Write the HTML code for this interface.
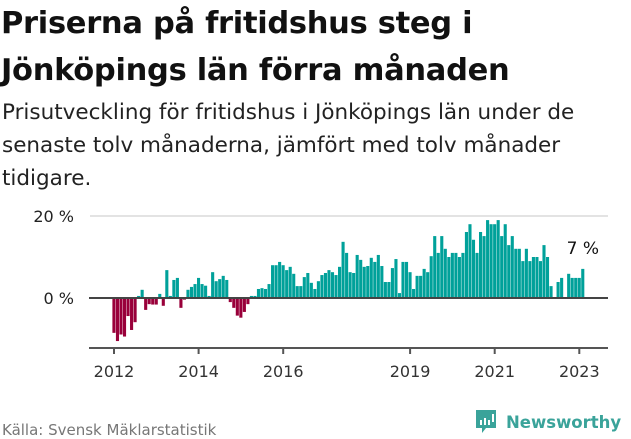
<!DOCTYPE html>
<html><head><meta charset="utf-8"><style>
body{margin:0;width:631px;height:439px;background:#fff;font-family:"DejaVu Sans",sans-serif;overflow:hidden;position:relative;color:#111}
h1{position:absolute;left:1px;top:0;margin:0;font-size:30.5px;line-height:47px;font-weight:bold;letter-spacing:-0.3px;font-family:"DejaVu Sans",sans-serif}
.sub{position:absolute;left:2px;top:96px;margin:0;font-size:21.5px;line-height:33px;color:#222}
.src{position:absolute;left:2px;top:421px;font-size:15px;color:#777}
.logo{position:absolute;left:474px;top:408px;display:flex;align-items:center;color:#3aa39a;font-weight:bold;font-size:16.5px}
</style></head><body>
<h1>Priserna på fritidshus steg i<br>Jönköpings län förra månaden</h1>
<p class="sub">Prisutveckling för fritidshus i Jönköpings län under de<br>senaste tolv månaderna, jämfört med tolv månader<br>tidigare.</p>
<svg id="chart" width="631" height="439" style="position:absolute;left:0;top:0"></svg>
<div class="src">Källa: Svensk Mäklarstatistik</div>
<div class="logo">
<svg width="24" height="28" viewBox="0 0 24 28" style="margin-right:8px"><path d="M2 2h20v18H12l-4 5v-5H2z" fill="#3aa39a"/><rect x="6" y="12" width="2" height="5" fill="#fff"/><rect x="10" y="10" width="2" height="7" fill="#fff"/><rect x="14" y="12" width="2" height="5" fill="#fff"/><rect x="18" y="6" width="2" height="8" fill="#fff"/></svg>Newsworthy</div>
<script>
const values=[-8.5,-10.5,-8.9,-9.4,-4.4,-7.8,-5.9,0.5,2.0,-2.9,-1.5,-1.6,-1.6,1.0,-1.9,6.8,0.5,4.4,4.9,-2.4,-0.4,2.0,2.7,3.4,4.9,3.4,3.0,0.5,6.3,4.1,4.6,5.4,4.4,-1.0,-2.4,-4.3,-4.8,-3.4,-1.5,0.5,0.5,2.2,2.4,2.2,3.4,8.0,8.0,8.8,8.0,6.8,7.6,5.9,2.9,2.9,5.1,6.1,3.7,2.2,4.1,5.6,6.1,6.8,6.3,5.6,7.6,13.7,11.0,6.3,6.1,10.5,9.3,7.6,7.8,9.8,8.8,10.5,7.8,3.9,3.9,7.3,9.5,1.2,8.8,8.8,6.3,2.2,5.4,5.4,7.1,6.3,10.2,15.1,11.0,15.1,12.0,10.0,11.0,11.0,10.0,11.0,16.1,18.0,14.2,11.0,16.1,15.1,19.0,18.0,18.0,19.0,15.1,18.0,12.9,15.1,12.0,12.0,9.0,12.0,9.0,10.0,10.0,9.0,12.9,10.0,2.9,0,3.9,4.9,0,5.9,4.9,4.9,4.9,7.1];
const yTicks=[0,20];
const xYears=[2012,2014,2016,2019,2021,2023];
const startYear=2012;
const lastLabel="7 %";
const svg=document.getElementById('chart');
const NS='http://www.w3.org/2000/svg';
const x=m=>114+3.525*m;
const y=v=>298-4.1*v;
const FF='DejaVu Sans, sans-serif';
function mk(t,a){const e=document.createElementNS(NS,t);for(const k in a)e.setAttribute(k,a[k]);svg.appendChild(e);return e;}
const g=mk('line',{x1:90,x2:608,y1:y(20),y2:y(20),stroke:'#e3e3e3','stroke-width':2});


yTicks.forEach(t=>{const e=mk('text',{x:74,y:y(t)+6,'text-anchor':'end','font-size':16,fill:'#222','font-family':FF});e.textContent=t+' %';

});
values.forEach((v,i)=>{if(v===0)return;const r=mk('rect',{x:x(i)-1.6,width:3.1,y:Math.min(y(v),y(0)),height:Math.abs(y(v)-y(0)),fill:v>0?'#00a19a':'#99003a'});

});
const z=mk('line',{x1:89,x2:608,y1:y(0),y2:y(0),stroke:'#444','stroke-width':2});


const ax=mk('line',{x1:89,x2:608,y1:348,y2:348,stroke:'#555','stroke-width':2});


xYears.forEach(yr=>{const px=x((yr-startYear)*12);const t=mk('line',{x1:px,x2:px,y1:348,y2:354,stroke:'#555','stroke-width':2});


const l=mk('text',{x:px,y:377,'text-anchor':'middle','font-size':16,fill:'#333','font-family':FF});l.textContent=yr;

});
const lb=mk('text',{x:x(values.length-1),y:254,'text-anchor':'middle','font-size':17,fill:'#111','font-family':FF});lb.textContent=lastLabel;


</script>
</body></html>
